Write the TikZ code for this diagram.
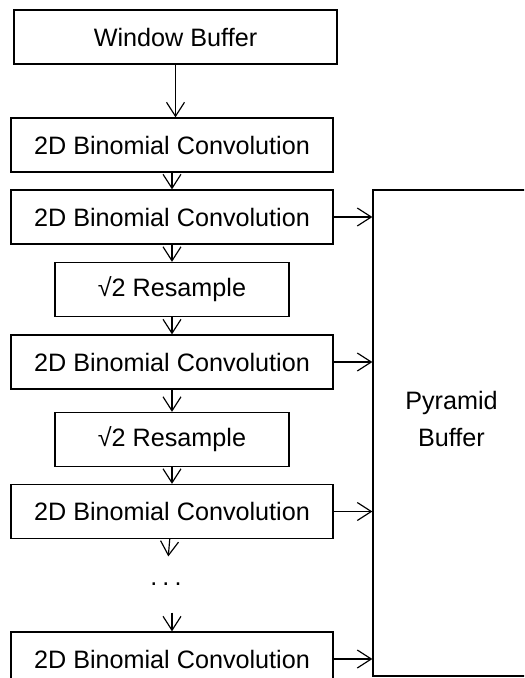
\documentclass[tikz,border=0pt]{standalone}
\usepackage{fontspec}
\setmainfont{Liberation Sans}
\usetikzlibrary{arrows.meta}

\def\convwidth{9.66cm}
\def\resamplewidth{7.02cm}

\begin{document}
\begin{tikzpicture}[x=0.03cm,y=-0.03cm,->,>={Straight Barb[length=0.42cm,width=0.54cm]},line width=1pt,font=\fontsize{21.5}{26}\selectfont]
				\tikzstyle{stage}=[draw,-,line width=1.1pt,minimum height=1.62cm,inner sep=0pt]
			    \tikzstyle{conv}=[stage,minimum width=\convwidth]
			    \tikzstyle{resample}=[stage,minimum width=\resamplewidth]

			    \clip (0,0) rectangle (524,678);

			    % Filter chain
			    \node[stage,minimum width=9.69cm] (wb) at (175.5,37) {Window Buffer};
			    \node[conv] (c1) at (172,145) {2D Binomial Convolution};
			    \node[conv] (c2) at (172,217) {2D Binomial Convolution};
			    \node[resample] (r1) at (172,289.5) {√2 Resample};
			    \node[conv] (c3) at (172,362) {2D Binomial Convolution};
			    \node[resample] (r2) at (172,439.5) {√2 Resample};
			    \node[conv] (c4) at (172,511.5) {2D Binomial Convolution};
			    \node[minimum height=1.65cm,inner sep=0pt] (dots) at (166,584.5) {.\hspace{0.2em}.\hspace{0.2em}.};
			    \node[conv] (c5) at (172,659) {2D Binomial Convolution};

			    % Output buffer
			    \node[stage,minimum width=4.71cm,minimum height=14.58cm,
			          label={[align=center,yshift=0.42cm]center:Pyramid\\[5.5pt]Buffer}] (pyr) at (451.5,433) {};

			    % Connect the chain
			    \draw (wb.south) -- (wb.south |- c1.north);
			    \draw (c1) -- (c2);
			    \draw (c2) -- (r1);
			    \draw (r1) -- (c3);
			    \draw (c3) -- (r2);
			    \draw (r2) -- (c4);
			    \draw (c4) -- (dots);
			    \draw (dots.south -| c5) -- (c5);

			    % Every convolution feeds the pyramid
			    \draw (c2.east) -- (c2.east -| pyr.west);
			    \draw (c3.east) -- (c3.east -| pyr.west);
			    \draw (c4.east) -- (c4.east -| pyr.west);
			    \draw (c5.east) -- (c5.east -| pyr.west);

			\end{tikzpicture}
\end{document}
